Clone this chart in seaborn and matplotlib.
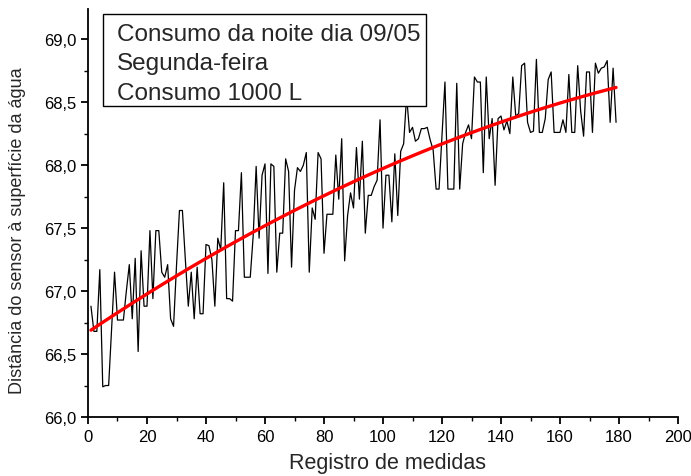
import numpy as np
import pandas as pd
import seaborn as sns
import matplotlib.pyplot as plt
from matplotlib.patches import Rectangle
from matplotlib.ticker import MultipleLocator, FuncFormatter

# leituras do sensor (cm), registro 1..179
distancia = [
    66.88, 66.68, 66.68, 67.17, 66.24, 66.25, 66.25, 66.70, 67.15, 66.77,
    66.77, 66.77, 67.00, 67.21, 66.78, 67.26, 66.52, 67.32, 66.88, 66.88,
    67.48, 66.94, 67.48, 67.48, 67.15, 67.11, 67.21, 66.78, 66.72, 67.20,
    67.64, 67.64, 67.25, 66.88, 67.15, 66.78, 67.19, 66.82, 66.82, 67.37,
    67.36, 67.25, 66.88, 67.42, 67.33, 67.86, 66.94, 66.94, 66.92, 67.48,
    67.48, 67.94, 67.11, 67.11, 67.11, 67.44, 67.99, 67.42, 67.92, 68.01,
    67.14, 68.01, 67.99, 67.15, 67.46, 67.46, 68.05, 67.95, 67.19, 67.80,
    67.98, 67.95, 68.00, 68.10, 67.15, 67.66, 67.57, 68.10, 68.05, 67.30,
    67.61, 67.61, 67.61, 68.08, 67.73, 68.21, 67.24, 67.60, 67.78, 67.66,
    68.14, 67.73, 68.19, 67.46, 67.76, 67.76, 67.83, 67.88, 68.36, 67.50,
    67.92, 67.92, 67.55, 68.09, 67.60, 68.11, 68.17, 68.55, 68.26, 68.30,
    68.19, 68.21, 68.29, 68.29, 68.30, 68.20, 68.12, 67.81, 67.81, 68.24,
    68.66, 67.81, 67.81, 67.81, 68.65, 67.81, 68.17, 68.26, 68.32, 68.21,
    68.70, 68.66, 68.66, 67.94, 68.70, 68.21, 68.37, 67.84, 68.37, 68.39,
    68.28, 68.35, 68.25, 68.70, 68.39, 68.41, 68.79, 68.81, 68.34, 68.26,
    68.27, 68.84, 68.26, 68.26, 68.37, 68.68, 68.74, 68.26, 68.26, 68.26,
    68.36, 68.26, 68.72, 68.26, 68.26, 68.79, 68.43, 68.23, 68.74, 68.74,
    68.26, 68.81, 68.73, 68.77, 68.78, 68.83, 68.34, 68.77, 68.34,
]
registro = list(range(1, len(distancia) + 1))

legenda = ["Consumo da noite dia 09/05", "Segunda-feira", "Consumo 1000 L"]

df = pd.DataFrame({"registro": registro, "distancia": distancia})

sns.set_style("ticks")
plt.rcParams["font.family"] = ["Liberation Sans", "DejaVu Sans"]

fig = plt.figure(figsize=(6.91, 4.77), dpi=100)
ax = fig.add_axes([88 / 691, 59 / 477, 590 / 691, 408 / 477])

sns.lineplot(data=df, x="registro", y="distancia", ax=ax, color="black", lw=0.9)
# ajuste polinomial de 2a ordem
sns.regplot(data=df, x="registro", y="distancia", ax=ax, order=2, ci=None,
            scatter=False, line_kws={"color": "red", "lw": 2.4})

ax.set_xlim(0, 200)
ax.set_ylim(66.0, 69.24)
ax.xaxis.set_major_locator(MultipleLocator(20))
ax.xaxis.set_minor_locator(MultipleLocator(10))
ax.yaxis.set_major_locator(MultipleLocator(0.5))
ax.yaxis.set_minor_locator(MultipleLocator(0.25))
ax.yaxis.set_major_formatter(FuncFormatter(lambda v, p: f"{v:.1f}".replace(".", ",")))

for s in ["top", "right"]:
    ax.spines[s].set_visible(False)
for s in ["left", "bottom"]:
    ax.spines[s].set_linewidth(1.3)
    ax.spines[s].set_color("black")
ax.tick_params(which="major", direction="out", length=5, width=1.3, labelsize=12, colors="black")
ax.tick_params(which="minor", direction="out", length=3, width=1.0, colors="black")

ax.set_xlabel("Registro de medidas", fontsize=15.5)
ax.set_ylabel("Distância do sensor à superfície da água", fontsize=13)
ax.xaxis.set_label_coords(0.507, -0.086)
ax.yaxis.set_label_coords(-0.105, 0.46)

# caixa de texto
ax.add_patch(Rectangle((15 / 590, 311 / 408), 323 / 590, 92 / 408, transform=ax.transAxes,
                       fc="white", ec="black", lw=1.0, zorder=5, clip_on=False))
for linha, yb in zip(legenda, [0.924, 0.852, 0.779]):
    ax.text(29 / 590, yb, linha, transform=ax.transAxes, fontsize=17.5,
            va="baseline", ha="left", zorder=6)

fig.savefig("out.png", dpi=100)
